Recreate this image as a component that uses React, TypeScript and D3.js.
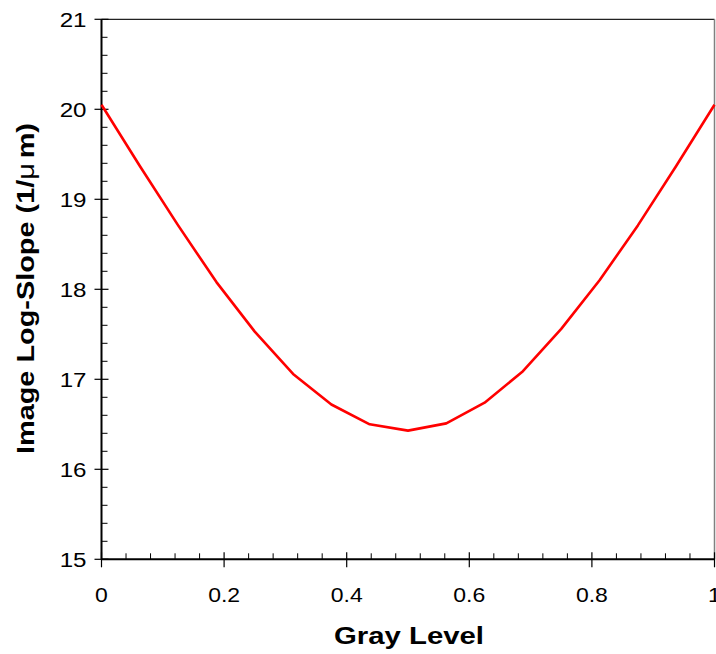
import React from "react";
import * as d3 from "d3";

const grayLevels = [0, 0.0625, 0.125, 0.1875, 0.25, 0.3125, 0.375, 0.4375, 0.5, 0.5625, 0.625, 0.6875, 0.75, 0.8125, 0.875, 0.9375, 1];
const logSlope = [20.05, 19.37, 18.71, 18.08, 17.53, 17.06, 16.72, 16.5, 16.43, 16.51, 16.74, 17.09, 17.56, 18.1, 18.71, 19.37, 20.05];
const xTicks = [0, 0.2, 0.4, 0.6, 0.8, 1];
const yTicks = [15, 16, 17, 18, 19, 20, 21];
const xTitle = "Gray Level";

const W = 716, H = 654;
const L = 101.5, R = 714.5, T = 19.3, B = 559.3;

export default function App() {
  const x = d3.scaleLinear().domain([0, 1]).range([L, R]);
  const y = d3.scaleLinear().domain([15, 21]).range([B, T]);
  const line = d3.line<number>().x((_, i) => x(grayLevels[i])).y((d) => y(d));
  const xMinor = d3.range(0, 1.0001, 0.04).filter((v) => Math.abs(v * 5 - Math.round(v * 5)) > 1e-6);
  const yMinor = d3.range(15, 21.0001, 0.2).filter((v) => Math.abs(v - Math.round(v)) > 1e-6);
  const font = "'Liberation Sans', Arial, sans-serif";
  const sx = 1.15;
  return (
    <svg width={W} height={H} style={{ position: "absolute", left: 0, top: 0, background: "#fff" }}>
      <rect x={0} y={0} width={W} height={H} fill="#fff" />
      {/* top and right borders */}
      <line x1={L} x2={R} y1={T} y2={T} stroke="#222" strokeWidth={1.3} />
      <line x1={R} x2={R} y1={T} y2={B} stroke="#808080" strokeWidth={1.5} />
      {/* minor ticks */}
      {xMinor.map((v, i) => (
        <line key={"xm" + i} x1={x(v)} x2={x(v)} y1={B} y2={B - 6} stroke="#000" strokeWidth={1} />
      ))}
      {yMinor.map((v, i) => (
        <line key={"ym" + i} x1={L} x2={L + 6} y1={y(v)} y2={y(v)} stroke="#000" strokeWidth={1} />
      ))}
      {/* major ticks */}
      {xTicks.map((v, i) => (
        <line key={"xM" + i} x1={x(v)} x2={x(v)} y1={B - 7} y2={B + 8} stroke="#000" strokeWidth={1.2} />
      ))}
      {yTicks.map((v, i) => (
        <line key={"yM" + i} x1={L - 7} x2={L + 7} y1={y(v)} y2={y(v)} stroke="#000" strokeWidth={1.2} />
      ))}
      {/* axes */}
      <line x1={L} x2={L} y1={T} y2={B} stroke="#000" strokeWidth={2} />
      <line x1={L} x2={R} y1={B} y2={B} stroke="#000" strokeWidth={2} />
      {/* tick labels */}
      {xTicks.map((v, i) => (
        <text
          key={"xl" + i}
          transform={`translate(${x(v)}, ${B + 43}) scale(${sx},1)`}
          textAnchor="middle"
          fontFamily={font}
          fontSize={20}
          fill="#000"
        >
          {String(v)}
        </text>
      ))}
      {yTicks.map((v, i) => (
        <text
          key={"yl" + i}
          transform={`translate(${L - 15}, ${y(v) + 7.5}) scale(${sx},1)`}
          textAnchor="end"
          fontFamily={font}
          fontSize={21}
          fill="#000"
        >
          {String(v)}
        </text>
      ))}
      {/* data line */}
      <path d={line(logSlope) || ""} fill="none" stroke="#ff0000" strokeWidth={2.6} strokeLinejoin="round" />
      {/* titles */}
      <text
        x={(L + R) / 2 + 1}
        y={644}
        textAnchor="middle"
        fontFamily={font}
        fontSize={23}
        fontWeight="bold"
        fill="#000"
        textLength={150}
        lengthAdjust="spacingAndGlyphs"
      >
        {xTitle}
      </text>
      <text
        transform={`translate(34, 288.5) rotate(-90)`}
        textAnchor="middle"
        fontFamily={font}
        fontSize={24}
        fontWeight="bold"
        fill="#000"
        textLength={331}
        lengthAdjust="spacingAndGlyphs"
      >
        Image Log-Slope (1/<tspan fontWeight="normal">μ</tspan><tspan dx={4}>m)</tspan>
      </text>
    </svg>
  );
}
